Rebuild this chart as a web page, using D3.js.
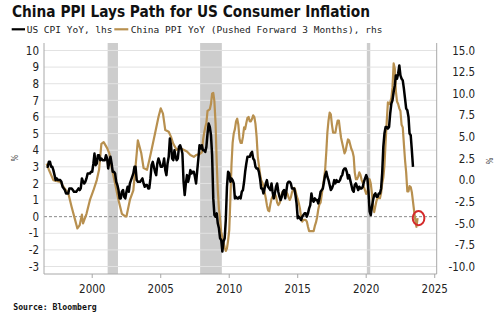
<!DOCTYPE html>
<html><head><meta charset="utf-8">
<script src="https://cdn.jsdelivr.net/npm/d3@7"></script>
<style>body{margin:0;background:#fff}svg{display:block}</style>
</head><body><svg id="c" width="500" height="325"></svg>
<script>
// ---------------- data ----------------
const titleText = "China PPI Lays Path for US Consumer Inflation";
const seriesNames = ["US CPI YoY, lhs", "China PPI YoY (Pushed Forward 3 Months), rhs"];
const sourceText = "Source: Bloomberg";
const xTickYears = [2000, 2005, 2010, 2015, 2020, 2025];
const lhsTicks = [-3, -2, -1, 0, 1, 2, 3, 4, 5, 6, 7, 8, 9, 10];
const rhsTicks = [-10, -7.5, -5, -2.5, 0, 2.5, 5, 7.5, 10, 12.5, 15];
const recessionStarts = ["2001-03", "2007-12", "2020-02"];
const recessionEnds = ["2001-11", "2009-06", "2020-04"];

// US CPI YoY %, monthly from Sep 1996
const cpiStart = "1996-09";
const cpiYoY = [3.0,3.0,3.3,3.3,
3.0,3.0,2.8,2.5,2.2,2.3,2.2,2.2,2.2,2.1,1.8,1.7,
1.6,1.4,1.4,1.4,1.7,1.7,1.7,1.6,1.5,1.5,1.5,1.6,
1.7,1.6,1.7,2.3,2.1,2.0,2.1,2.3,2.6,2.6,2.6,2.7,
2.7,3.2,3.8,3.1,3.2,3.7,3.7,3.4,3.5,3.4,3.4,3.4,
3.7,3.5,2.9,3.3,3.6,3.2,2.7,2.7,2.6,2.1,1.9,1.6,
1.1,1.1,1.5,1.6,1.2,1.1,1.5,1.8,1.5,2.0,2.2,2.4,
2.6,3.0,3.0,2.2,2.1,2.1,2.1,2.2,2.3,2.0,1.8,1.9,
1.9,1.7,1.7,2.3,3.1,3.3,3.0,2.7,2.5,3.2,3.5,3.3,
3.0,3.0,3.1,3.5,2.8,2.5,3.2,3.6,4.7,4.3,3.5,3.4,
4.0,3.6,3.4,3.5,4.2,4.3,4.1,3.8,2.1,1.3,2.0,2.5,
2.1,2.4,2.8,2.6,2.7,2.7,2.4,2.0,2.8,3.5,4.3,4.1,
4.3,4.0,4.0,3.9,4.2,5.0,5.6,5.4,4.9,3.7,1.1,0.1,
0.0,0.2,-0.4,-0.7,-1.3,-1.4,-2.1,-1.5,-1.3,-0.2,1.8,2.7,
2.6,2.1,2.3,2.2,2.0,1.1,1.2,1.1,1.1,1.2,1.1,1.5,
1.6,2.1,2.7,3.2,3.6,3.6,3.6,3.8,3.9,3.5,3.4,3.0,
2.9,2.9,2.7,2.3,1.7,1.7,1.4,1.7,2.0,2.2,1.8,1.7,
1.6,2.0,1.5,1.1,1.4,1.8,2.0,1.5,1.2,1.0,1.2,1.5,
1.6,1.1,1.5,2.0,2.1,2.1,2.0,1.7,1.7,1.7,1.3,0.8,
-0.1,0.0,-0.1,-0.2,0.0,0.1,0.2,0.2,0.0,0.2,0.5,0.7,
1.4,1.0,0.9,1.1,1.0,1.0,0.8,1.1,1.5,1.6,1.7,2.1,
2.5,2.7,2.4,2.2,1.9,1.6,1.7,1.9,2.2,2.0,2.2,2.1,
2.1,2.2,2.4,2.5,2.8,2.9,2.9,2.7,2.3,2.5,2.2,1.9,
1.6,1.5,1.9,2.0,1.8,1.6,1.8,1.7,1.7,1.8,2.1,2.3,
2.5,2.3,1.5,0.3,0.1,0.6,1.0,1.3,1.4,1.2,1.2,1.4,
1.4,1.7,2.6,4.2,5.0,5.4,5.4,5.3,5.4,6.2,6.8,7.0,
7.5,7.9,8.5,8.3,8.6,9.1,8.5,8.3,8.2,7.7,7.1,6.5,
6.4,6.0,5.0,4.9,4.0,3.0];

// China PPI YoY % (original month, before the 3-month push)
const ppiShiftMonths = 3;
const ppiEarlyMonths = ["1996-06","1996-08","1996-12","1997-06","1997-10","1998-01","1998-04","1998-07","1998-09","1998-11",
"1999-01","1999-02","1999-05","1999-08","1999-11","2000-02","2000-04","2000-06","2000-08","2000-11",
"2001-01","2001-03","2001-06","2001-09","2001-12","2002-03","2002-04","2002-07","2002-10","2003-01",
"2003-02","2003-05","2003-07","2003-10","2003-12","2004-02","2004-05","2004-08","2004-10","2004-12",
"2005-02","2005-05","2005-07","2005-09","2005-12","2006-03","2006-06","2006-09","2006-12","2007-03",
"2007-05","2007-08"];
const ppiEarlyYoY = [1.9,1.2,0.0,-0.2,-1.0,-1.5,-3.1,-4.6,-5.6,-5.2,
-4.0,-5.0,-3.9,-2.3,-1.2,0.0,1.2,4.2,4.4,3.7,
3.1,1.5,-0.4,-2.3,-3.9,-4.2,-4.2,-2.3,-1.2,3.1,
4.6,3.1,1.4,1.2,2.3,3.5,5.4,7.3,8.3,7.7,
5.8,5.6,5.0,4.2,3.5,3.7,3.5,3.3,2.9,2.7,
2.9,3.0];
const ppiMonthlyStart = "2007-10";
const ppiMonthlyYoY = [3.2,4.6,5.4,
6.1,6.6,8.0,8.1,8.2,8.8,10.0,10.1,9.1,6.6,2.0,-1.1,
-3.3,-4.5,-6.0,-6.6,-7.2,-7.8,-8.2,-7.9,-7.0,-5.8,-2.1,1.7,
4.3,5.4,5.9,6.8,7.1,6.4,4.8,4.3,4.3,5.0,6.1,5.9,
6.6,7.2,7.3,6.8,6.8,7.1,7.5,7.3,6.5,5.0,2.7,1.7,
0.7,0.0,-0.3,-0.7,-1.4,-2.1,-2.9,-3.5,-3.6,-2.8,-2.2,-1.9,
-1.6,-1.6,-1.9,-2.6,-2.9,-2.7,-2.3,-1.6,-1.3,-1.5,-1.4,-1.4,
-1.6,-2.0,-2.3,-2.0,-1.4,-1.1,-0.9,-1.2,-1.8,-2.2,-2.7,-3.3,
-4.3,-4.8,-4.6,-4.6,-4.6,-4.8,-5.4,-5.9,-5.9,-5.9,-5.9,-5.9,
-5.3,-4.9,-4.3,-3.4,-2.8,-2.6,-1.7,-0.8,0.1,1.2,3.3,5.5,
6.9,7.8,7.6,6.4,5.5,5.5,5.5,6.3,6.9,6.9,5.8,4.9,
4.3,3.7,3.1,3.4,4.1,4.7,4.6,4.1,3.6,3.3,2.7,0.9,
0.1,0.1,0.4,0.9,0.6,0.0,-0.3,-0.8,-1.2,-1.6,-1.4,-0.5,
0.1,-0.4,-1.5,-3.1,-3.7,-3.0,-2.4,-2.0,-2.1,-2.1,-1.5,-0.4,
0.3,1.7,4.4,6.8,9.0,8.8,9.0,9.5,10.7,13.5,12.9,10.3,
9.1,8.8,8.3,8.0,6.4,6.1,4.2,2.3,0.9,-1.3,-1.3,-0.7,
-0.8,-1.4,-2.5,-3.6,-4.6,-5.4,-4.4];

// ---------------- helpers ----------------
function monthDate(s, offset, day) {
  const p = s.split("-").map(Number);
  return new Date(p[0], p[1] - 1 + (offset || 0), day || 15);
}
const cpiData = cpiYoY.map((v, i) => ({ date: monthDate(cpiStart, i), value: v }));
const ppiData = ppiEarlyMonths.map((m, i) => ({ date: monthDate(m, ppiShiftMonths), value: ppiEarlyYoY[i] }))
  .concat(ppiMonthlyYoY.map((v, i) => ({ date: monthDate(ppiMonthlyStart, i + ppiShiftMonths), value: v })));

// ---------------- layout ----------------
const svg = d3.select("#c");
const plot = { left: 44, right: 436.7, top: 43, bottom: 274 };
const FONT = "'DejaVu Sans Condensed','DejaVu Sans',sans-serif";
const MONO = "'DejaVu Sans Mono','Liberation Mono',monospace";

const x = d3.scaleTime()
  .domain([new Date(1996, 6, 8), new Date(2025, 2, 8)])
  .range([plot.left, plot.right]);
const yL = d3.scaleLinear().domain([-3.45, 10.45]).range([plot.bottom, plot.top]);
const yR = d3.scaleLinear().domain([-10, 15]).range([yL(-3), yL(10)]);

// recession shading
svg.append("g").selectAll("rect").data(recessionStarts).join("rect")
  .attr("x", (d) => x(monthDate(d, 0, 1)))
  .attr("width", (d, i) => Math.max(1.2, x(monthDate(recessionEnds[i], 1, 1)) - x(monthDate(d, 0, 1))))
  .attr("y", plot.top).attr("height", plot.bottom - plot.top)
  .attr("fill", "#cdcdcd");

// horizontal gridlines (lhs)
svg.append("g").selectAll("line").data(lhsTicks).join("line")
  .attr("x1", plot.left).attr("x2", plot.right)
  .attr("y1", (d) => yL(d)).attr("y2", (d) => yL(d))
  .attr("stroke", (d) => d === 0 ? "#8a8a8a" : "#e2e2e2")
  .attr("stroke-width", 1)
  .attr("stroke-dasharray", (d) => d === 0 ? "3,2" : null);

// axes lines
const axisColor = "#a8a8a8";
svg.append("line").attr("x1", plot.left).attr("x2", plot.left).attr("y1", plot.top).attr("y2", plot.bottom).attr("stroke", axisColor);
svg.append("line").attr("x1", plot.right).attr("x2", plot.right).attr("y1", plot.top).attr("y2", plot.bottom).attr("stroke", axisColor);
svg.append("line").attr("x1", plot.left).attr("x2", plot.right).attr("y1", plot.bottom).attr("y2", plot.bottom).attr("stroke", axisColor);

// x axis
const xAxis = d3.axisBottom(x)
  .tickValues(xTickYears.map((yv) => new Date(yv, 0, 1)))
  .tickFormat(d3.timeFormat("%Y")).tickSize(4).tickSizeOuter(0);
const gx = svg.append("g").attr("transform", `translate(0,${plot.bottom})`).call(xAxis);
gx.select(".domain").remove();
gx.selectAll("line").attr("stroke", axisColor);
gx.selectAll("text").attr("font-family", FONT).attr("font-size", 11.5).attr("fill", "#222").attr("dy", "1.05em").attr("y", 7);

// left axis
const gl = svg.append("g").attr("transform", `translate(${plot.left},0)`)
  .call(d3.axisLeft(yL).tickValues(lhsTicks).tickFormat((d) => String(d)).tickSize(0).tickPadding(5));
gl.select(".domain").remove();
gl.selectAll("text").attr("font-family", FONT).attr("font-size", 11.5).attr("fill", "#222");

// right axis
const gr = svg.append("g").attr("transform", `translate(${plot.right},0)`)
  .call(d3.axisRight(yR).tickValues(rhsTicks).tickFormat((d) => d.toFixed(1)).tickSize(0).tickPadding(0));
gr.select(".domain").remove();
gr.selectAll("text").attr("font-family", FONT).attr("font-size", 11.5).attr("fill", "#222")
  .attr("text-anchor", "end").attr("x", 38.5);

// % unit labels
svg.append("text").attr("transform", `translate(15,158) rotate(-90)`).attr("text-anchor", "middle")
  .attr("dy", "0.35em").attr("font-family", FONT).attr("font-size", 8).attr("fill", "#333").text("%");
svg.append("text").attr("transform", `translate(488.5,161) rotate(90)`).attr("text-anchor", "middle")
  .attr("dy", "0.35em").attr("font-family", FONT).attr("font-size", 8).attr("fill", "#333").text("%");

// lines
const ppiColor = "#b8904f";
const lineL = d3.line().x((d) => x(d.date)).y((d) => yL(d.value));
const lineR = d3.line().x((d) => x(d.date)).y((d) => yR(d.value));
svg.append("path").datum(ppiData).attr("d", lineR).attr("fill", "none")
  .attr("stroke", ppiColor).attr("stroke-width", 2.2).attr("stroke-linejoin", "round");
svg.append("path").datum(cpiData).attr("d", lineL).attr("fill", "none")
  .attr("stroke", "#000").attr("stroke-width", 2.5).attr("stroke-linejoin", "round");

// red circle on last PPI point
const lastPpi = ppiData[ppiData.length - 1];
svg.append("ellipse").attr("cx", x(lastPpi.date) + 1).attr("cy", yR(lastPpi.value))
  .attr("rx", 5.8).attr("ry", 7.2).attr("fill", "none").attr("stroke", "#d42a2a").attr("stroke-width", 2);

// title
function fitText(sel, w) {
  const cur = sel.node().getComputedTextLength();
  if (Math.abs(cur - w) > 1) sel.attr("textLength", w).attr("lengthAdjust", "spacingAndGlyphs");
}
const t = svg.append("text").attr("x", 12).attr("y", 17).attr("font-family", FONT)
  .attr("font-weight", "bold").attr("font-size", 15).attr("fill", "#111").text(titleText);
fitText(t, 358);

// legend
const legY = 29.3;
svg.append("line").attr("x1", 11.7).attr("x2", 25).attr("y1", legY).attr("y2", legY).attr("stroke", "#000").attr("stroke-width", 2.2);
const l1 = svg.append("text").attr("x", 26.7).attr("y", 32.6).attr("font-family", MONO).attr("font-size", 9.5).attr("fill", "#222").text(seriesNames[0]);
fitText(l1, 85);
svg.append("line").attr("x1", 114.3).attr("x2", 128.3).attr("y1", legY).attr("y2", legY).attr("stroke", ppiColor).attr("stroke-width", 2.2);
const l2 = svg.append("text").attr("x", 130.7).attr("y", 32.6).attr("font-family", MONO).attr("font-size", 9.5).attr("fill", "#222").text(seriesNames[1]);
fitText(l2, 252);

// source
const s = svg.append("text").attr("x", 13.3).attr("y", 310).attr("font-family", MONO).attr("font-weight", "bold")
  .attr("font-size", 8.3).attr("fill", "#111").text(sourceText);
fitText(s, 83.4);
</script></body></html>
